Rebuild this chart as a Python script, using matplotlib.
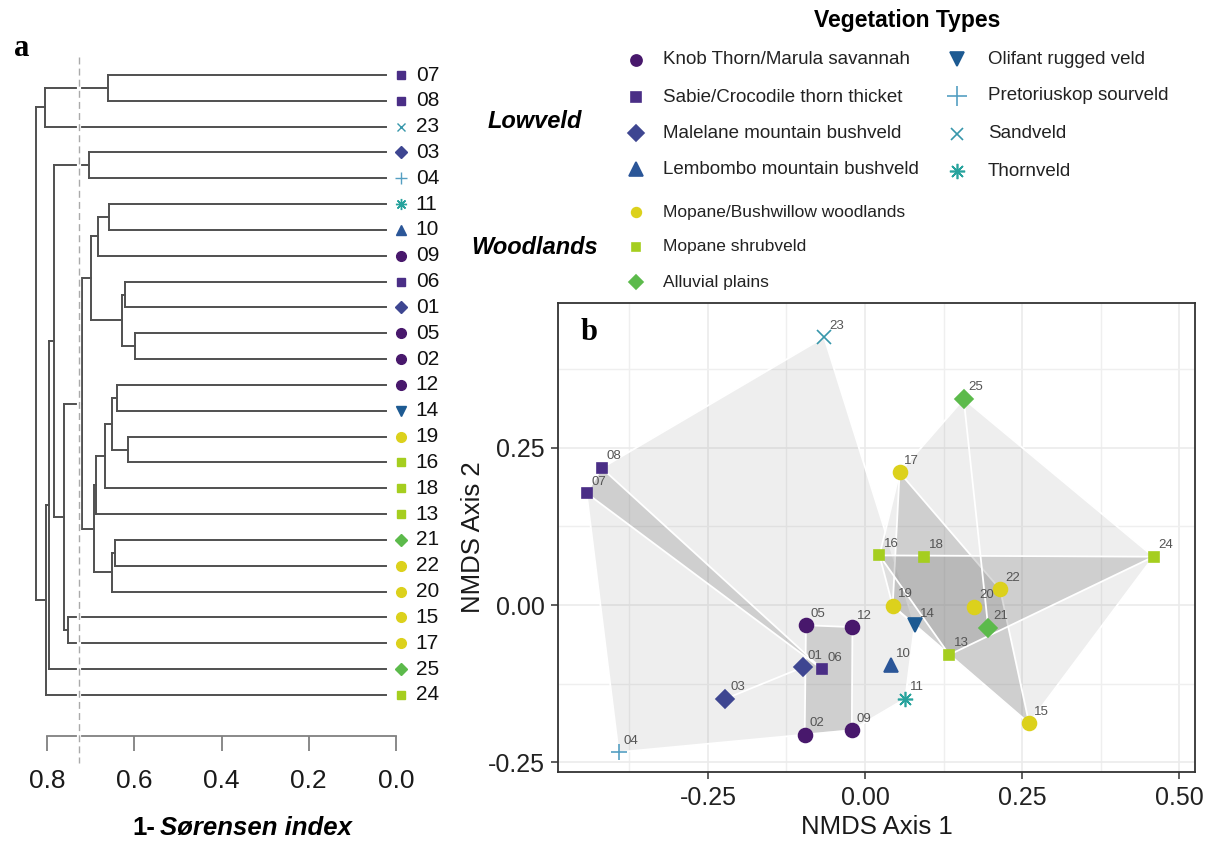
import matplotlib.pyplot as plt
import numpy as np

plt.rcParams['font.family'] = ['Liberation Sans', 'DejaVu Sans']
plt.rcParams['axes.unicode_minus'] = False

W, H = 1213, 842

# ---- Vegetation types ----
veg_types = ["Knob Thorn/Marula savannah", "Sabie/Crocodile thorn thicket",
             "Malelane mountain bushveld", "Lembombo mountain bushveld",
             "Olifant rugged veld", "Pretoriuskop sourveld", "Sandveld", "Thornveld",
             "Mopane/Bushwillow woodlands", "Mopane shrubveld", "Alluvial plains"]
veg_region = ["Lowveld"] * 8 + ["Woodlands"] * 3
veg_colors = ["#48186C", "#4A2E86", "#3E4691", "#2B5698", "#1D5A92", "#559FC2",
              "#3797AB", "#27A39D", "#DCD11C", "#A5CE1F", "#5CBA4B"]
veg_markers = ["o", "s", "D", "^", "v", "+", "x", (8, 2, 0), "o", "s", "D"]

# ---- Sites: NMDS scores and vegetation type (index into veg_types) ----
sites = ["01", "02", "03", "04", "05", "06", "07", "08", "09", "10", "11", "12", "13",
         "14", "15", "16", "17", "18", "19", "20", "21", "22", "23", "24", "25"]
site_type = [2, 0, 2, 5, 0, 1, 1, 1, 0, 3, 7, 0, 9, 4, 8, 9, 8, 9, 8, 8, 10, 8, 6, 9, 10]
nmds1 = [-0.099, -0.096, -0.222, -0.392, -0.094, -0.068, -0.443, -0.419, -0.021, 0.041,
         0.064, -0.020, 0.134, 0.079, 0.261, 0.023, 0.055, 0.094, 0.044, 0.174,
         0.196, 0.215, -0.065, 0.459, 0.157]
nmds2 = [-0.099, -0.206, -0.149, -0.234, -0.032, -0.102, 0.178, 0.218, -0.199, -0.096,
         -0.149, -0.035, -0.079, -0.032, -0.188, 0.079, 0.211, 0.077, -0.001, -0.003,
         -0.036, 0.025, 0.426, 0.077, 0.328]

# ---- Dendrogram merges (left, right, height); "mN" = N-th merge ----
merges = [("07", "08", 0.660), ("m0", "23", 0.805), ("03", "04", 0.704),
          ("11", "10", 0.658), ("m3", "09", 0.683), ("06", "01", 0.621),
          ("05", "02", 0.598), ("m5", "m6", 0.628), ("m4", "m7", 0.698),
          ("12", "14", 0.640), ("19", "16", 0.614), ("m9", "m10", 0.650),
          ("m11", "18", 0.667), ("m12", "13", 0.688), ("21", "22", 0.644),
          ("m14", "20", 0.650), ("m13", "m15", 0.692), ("m8", "m16", 0.720),
          ("15", "17", 0.751), ("m17", "m18", 0.760), ("m2", "m19", 0.784),
          ("m20", "25", 0.795), ("m21", "24", 0.803), ("m1", "m22", 0.825)]
cut_height = 0.726
dend_ticks = [0.8, 0.6, 0.4, 0.2, 0.0]

fig = plt.figure(figsize=(W / 100, H / 100), dpi=100)

# ---- Panel a: dendrogram ----
leaf_y0, leaf_step = 75, 25.83
ax_a = fig.add_axes([0, 0, 480 / W, 1])
ax_a.set_xlim(396 / 436.25, (396 - 480) / 436.25)
ax_a.set_ylim((H - leaf_y0) / leaf_step, -leaf_y0 / leaf_step)
ax_a.patch.set_alpha(0)

children = {f"m{i}": (l, r) for i, (l, r, h) in enumerate(merges)}


def leaf_order(node):
    if node in children:
        return leaf_order(children[node][0]) + leaf_order(children[node][1])
    return [node]


order = leaf_order(f"m{len(merges) - 1}")
leaf_end = 0.023
pos = {s: i for i, s in enumerate(order)}
hgt = {s: leaf_end for s in order}
line_kw = dict(color="#505050", lw=1.4, solid_capstyle="projecting")
for i, (l, r, h) in enumerate(merges):
    for c in (l, r):
        ax_a.plot([hgt[c], h], [pos[c], pos[c]], **line_kw)
    ax_a.plot([h, h], [pos[l], pos[r]], **line_kw)
    pos[f"m{i}"] = (pos[l] + pos[r]) / 2
    hgt[f"m{i}"] = h

# cut line (white halo breaks the branches)
y_top, y_bot = (57 - leaf_y0) / leaf_step, (763 - leaf_y0) / leaf_step
ax_a.plot([cut_height] * 2, [y_top, y_bot], color="white", lw=3, zorder=3)
ax_a.plot([cut_height] * 2, [y_top, y_bot], color="#AAAAAA", lw=1, ls=(0, (5, 3)), zorder=4)

dend_ms = {"o": 7, "s": 5.5, "D": 6.5, "^": 7.5, "v": 7.5, "+": 9, "x": 6}
for i, s in enumerate(order):
    t = site_type[sites.index(s)]
    mk = veg_markers[t]
    ms = dend_ms.get(mk, 8) if isinstance(mk, str) else 8
    ax_a.plot(-0.011, i, marker=mk, color=veg_colors[t], ms=ms, mew=1, ls="none")
    ax_a.text(-0.045, i, s, fontsize=15, color="#111111", ha="left", va="center")

for sp in ["left", "right", "top"]:
    ax_a.spines[sp].set_visible(False)
ax_a.spines["bottom"].set_position(("data", (736 - leaf_y0) / leaf_step))
ax_a.spines["bottom"].set_bounds(0.0, 0.8)
ax_a.spines["bottom"].set_color("#808080")
ax_a.spines["bottom"].set_linewidth(1.3)
ax_a.set_xticks(dend_ticks)
ax_a.set_xticklabels([f"{v:.1f}" for v in dend_ticks])
ax_a.tick_params(axis="x", direction="out", length=11, width=1.3, color="#808080",
                 labelsize=19, labelcolor="#1a1a1a", pad=13)
ax_a.set_yticks([])

fig.text(132 / W, 1 - 828 / H, "1-", fontsize=18.5, fontweight="bold", ha="left", va="center")
fig.text(160 / W, 1 - 828 / H, "Sørensen index", fontsize=18.5, fontweight="bold",
         style="italic", ha="left", va="center")
fig.text(14 / W, 1 - 48 / H, "a", family="Liberation Serif", fontweight="bold",
         fontsize=22, ha="left", va="center")

# ---- Panel b: NMDS ----
x0, x1, y0, y1 = 558.3, 1195, 303.3, 771.7
ax_b = fig.add_axes([x0 / W, 1 - y1 / H, (x1 - x0) / W, (y1 - y0) / H])
ax_b.set_xlim(-0.488, 0.525)
ax_b.set_ylim(-0.265, 0.480)
ax_b.set_axisbelow(True)
ax_b.set_xticks([-0.25, 0, 0.25, 0.5])
ax_b.set_xticks([-0.375, -0.125, 0.125, 0.375], minor=True)
ax_b.set_yticks([-0.25, 0, 0.25])
ax_b.set_yticks([-0.125, 0.125, 0.375], minor=True)
ax_b.set_xticklabels(["-0.25", "0.00", "0.25", "0.50"])
ax_b.set_yticklabels(["-0.25", "0.00", "0.25"])
ax_b.grid(True, which="major", color="#EBEBEB", lw=1.2)
ax_b.grid(True, which="minor", color="#EFEFEF", lw=1.0)
ax_b.tick_params(which="minor", length=0)
ax_b.tick_params(which="major", direction="out", length=5, width=1.1, color="#333333",
                 labelsize=18, labelcolor="#222222", pad=5)
for sp in ax_b.spines.values():
    sp.set_color("#333333")
    sp.set_linewidth(1.3)

x = np.array(nmds1)
y = np.array(nmds2)
st = np.array(site_type)
reg = np.array([veg_region[t] for t in site_type])


def convex_hull(pts):
    pts = sorted(set(pts))
    if len(pts) <= 2:
        return pts

    def cross(o, a, b):
        return (a[0] - o[0]) * (b[1] - o[1]) - (a[1] - o[1]) * (b[0] - o[0])
    lower, upper = [], []
    for p in pts:
        while len(lower) >= 2 and cross(lower[-2], lower[-1], p) <= 0:
            lower.pop()
        lower.append(p)
    for p in reversed(pts):
        while len(upper) >= 2 and cross(upper[-2], upper[-1], p) <= 0:
            upper.pop()
        upper.append(p)
    return lower[:-1] + upper[:-1]


def draw_hull(mask, alpha):
    h = convex_hull(list(zip(x[mask], y[mask])))
    if len(h) < 2:
        return
    hx, hy = zip(*h)
    ax_b.fill(hx, hy, facecolor=(0.5, 0.5, 0.5, alpha), edgecolor="white", lw=1.3, zorder=1)


for r in ["Lowveld", "Woodlands"]:
    draw_hull(reg == r, 0.13)
for t in range(len(veg_types)):
    draw_hull(st == t, 0.28)

nmds_ms = {"o": 10, "s": 7.5, "D": 9, "^": 10, "v": 10, "+": 11, "x": 10}
for t in range(len(veg_types)):
    m = st == t
    mk = veg_markers[t]
    ms = nmds_ms.get(mk, 11) if isinstance(mk, str) else 11
    ax_b.plot(x[m], y[m], marker=mk, ls="none", color=veg_colors[t], ms=ms, mew=1.2, zorder=3)
for s, xi, yi in zip(sites, x, y):
    ax_b.annotate(s, (xi, yi), xytext=(3.5, 4), textcoords="offset points",
                  fontsize=9.5, color="#555555", ha="left", va="bottom", zorder=4)

ax_b.set_xlabel("NMDS Axis 1", fontsize=18.5, color="#1a1a1a", labelpad=4)
ax_b.set_ylabel("NMDS Axis 2", fontsize=18.5, color="#1a1a1a", labelpad=2)
ax_b.text(0.035, 0.937, "b", transform=ax_b.transAxes, family="Liberation Serif",
          fontweight="bold", fontsize=22, ha="left", va="center")

# ---- Legend (figure pixel coordinates) ----
ax_l = fig.add_axes([0, 0, 1, 1], zorder=-1)
ax_l.set_xlim(0, W)
ax_l.set_ylim(H, 0)
ax_l.axis("off")
ax_l.text(907, 21, "Vegetation Types", fontsize=16.5, fontweight="bold", ha="center", va="center")
ax_l.text(535, 122, "Lowveld", fontsize=17, fontweight="bold", style="italic", ha="center", va="center")
ax_l.text(535, 248, "Woodlands", fontsize=17, fontweight="bold", style="italic", ha="center", va="center")

leg_pos = [(636, 60), (636, 97), (636, 133), (636, 169),
           (957, 59), (957, 96), (957, 134), (957, 171),
           (636, 212), (636, 247), (636, 282)]
leg_ms = [8, 6.5, 8.5, 9.5, 10.5, 14, 8.5, 11, 7, 5.5, 7]
for t, (lx, ly) in enumerate(leg_pos):
    ax_l.plot(lx, ly, marker=veg_markers[t], color=veg_colors[t], ms=leg_ms[t], mew=1.2, ls="none")
    fs = 13.5 if veg_region[t] == "Lowveld" else 12.5
    tx = 663 if lx < 900 else 988
    ax_l.text(tx, ly, veg_types[t], fontsize=fs, color="#222222", ha="left", va="center")

fig.savefig("out.png", dpi=100)
plt.close(fig)
